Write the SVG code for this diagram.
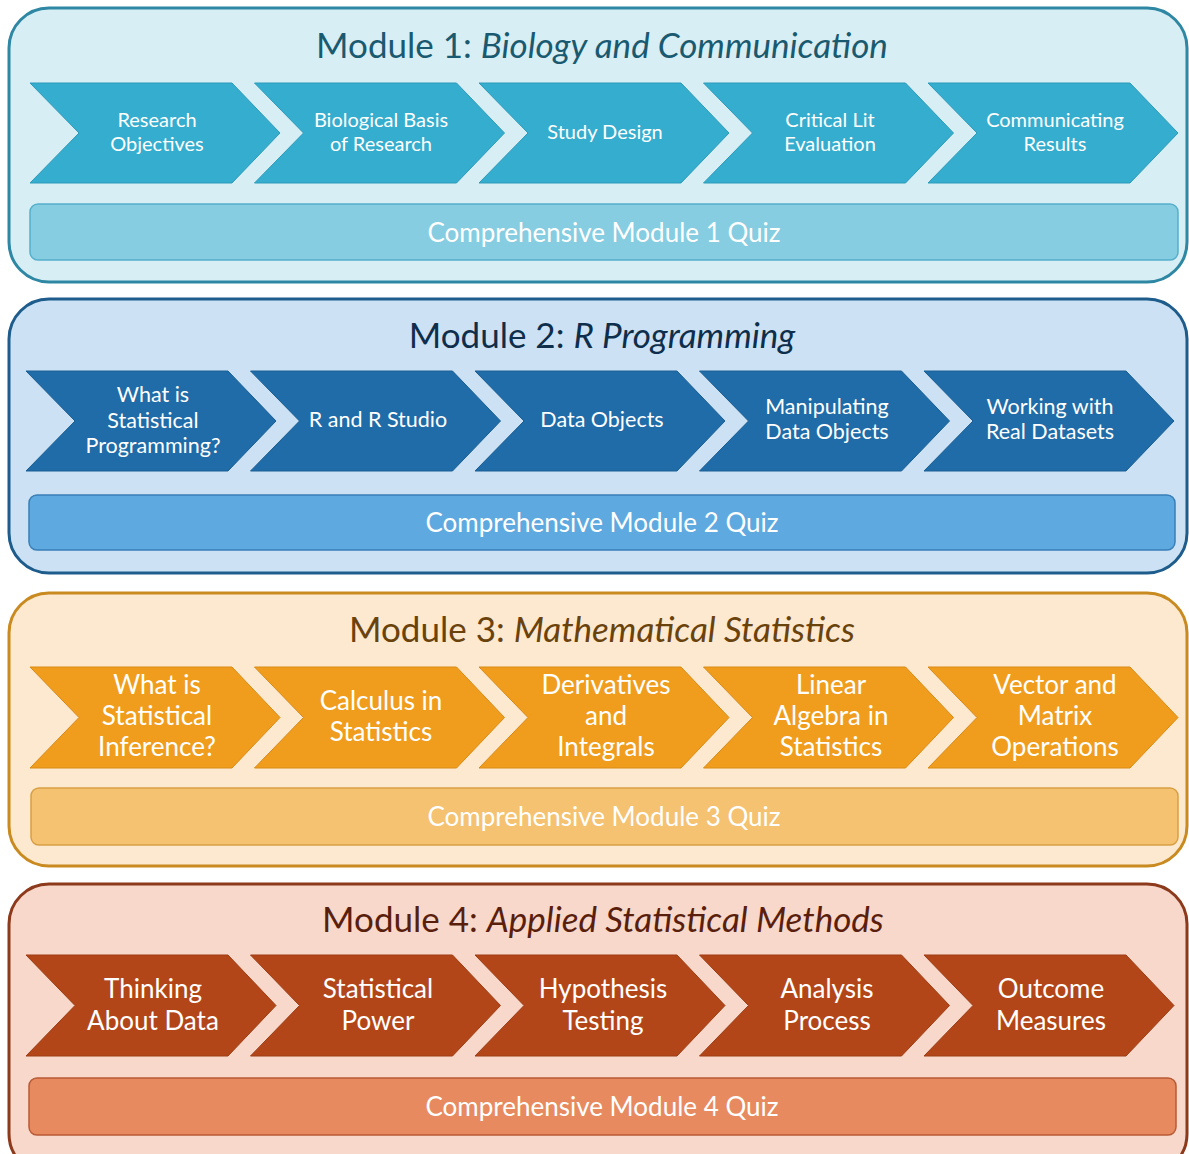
<svg xmlns="http://www.w3.org/2000/svg" width="1189" height="1154" viewBox="0 0 1189 1154">
<defs>
<style>
text{font-family:Lato,"Open Sans","Liberation Sans",sans-serif;text-anchor:middle}
.title{font-size:35px}
.lbl{fill:#fff}
.s{font-size:20px}
.s2{font-size:21.5px}
.l{font-size:26px}
.q{font-size:26px;fill:#fff}
.it{font-style:italic}
.m1c{fill:#D8EEF5;stroke:#2E87A3;stroke-width:3}
.m1v{fill:#35ADCE;stroke:#2D9BBA;stroke-width:1}
.m1q{fill:#86CDE2;stroke:#56B0CC;stroke-width:1.5}
.m1t{fill:#1A5A70}
.m2c{fill:#CCE2F4;stroke:#1E5C8C;stroke-width:3}
.m2v{fill:#1F6CA8;stroke:#1A5E93;stroke-width:1}
.m2q{fill:#5EAAE0;stroke:#3A7FB8;stroke-width:1.5}
.m2t{fill:#0E2E4C}
.m3c{fill:#FCE9D0;stroke:#C98A20;stroke-width:3}
.m3v{fill:#F09D1E;stroke:#D98A15;stroke-width:1}
.m3q{fill:#F5C272;stroke:#D9A043;stroke-width:1.5}
.m3t{fill:#6A420C}
.m4c{fill:#F7D8CB;stroke:#8C3A1B;stroke-width:3}
.m4v{fill:#B34618;stroke:#9E3D14;stroke-width:1}
.m4q{fill:#E88A60;stroke:#B85A35;stroke-width:1.5}
.m4t{fill:#5A1E0C}
</style>
</defs>
<g id="module1">
<rect class="m1c" x="9" y="8" width="1178" height="274" rx="40"/>
<text class="title m1t" x="602" y="58">Module 1: <tspan class="it">Biology and Communication</tspan></text>
</g>
<g id="m1-research-objectives"><path class="m1v" d="M30,83 H232 L280,133 L232,183 H30 L79,133 Z"/><text class="lbl s" x="157" y="127">Research</text><text class="lbl s" x="157" y="151">Objectives</text></g>
<g id="m1-biological-basis"><path class="m1v" d="M254.5,83 H456.5 L504.5,133 L456.5,183 H254.5 L303.5,133 Z"/><text class="lbl s" x="381" y="127">Biological Basis</text><text class="lbl s" x="381" y="151">of Research</text></g>
<g id="m1-study-design"><path class="m1v" d="M479,83 H681 L729,133 L681,183 H479 L528,133 Z"/><text class="lbl s" x="605" y="139">Study Design</text></g>
<g id="m1-critical-lit"><path class="m1v" d="M703.5,83 H905.5 L953.5,133 L905.5,183 H703.5 L752.5,133 Z"/><text class="lbl s" x="830" y="127">Critical Lit</text><text class="lbl s" x="830" y="151">Evaluation</text></g>
<g id="m1-communicating-results"><path class="m1v" d="M928,83 H1130 L1178,133 L1130,183 H928 L977,133 Z"/><text class="lbl s" x="1055" y="127">Communicating</text><text class="lbl s" x="1055" y="151">Results</text></g>
<g id="m1-quiz"><rect class="m1q" x="30" y="204" width="1148" height="56" rx="8"/><text class="q" x="604" y="242">Comprehensive Module 1 Quiz</text></g>

<g id="module2">
<rect class="m2c" x="9" y="299" width="1178" height="274" rx="40"/>
<text class="title m2t" x="602" y="348">Module 2: <tspan class="it">R Programming</tspan></text>
</g>
<g id="m2-what-is-stat-prog"><path class="m2v" d="M26,371 H228 L276,421 L228,471 H26 L75,421 Z"/><text class="lbl s2" x="153" y="402">What is</text><text class="lbl s2" x="153" y="428">Statistical</text><text class="lbl s2" x="153" y="453">Programming?</text></g>
<g id="m2-r-studio"><path class="m2v" d="M250.5,371 H452.5 L500.5,421 L452.5,471 H250.5 L299.5,421 Z"/><text class="lbl s2" x="378" y="427">R and R Studio</text></g>
<g id="m2-data-objects"><path class="m2v" d="M475,371 H677 L725,421 L677,471 H475 L524,421 Z"/><text class="lbl s2" x="602" y="427">Data Objects</text></g>
<g id="m2-manipulating"><path class="m2v" d="M699.5,371 H901.5 L949.5,421 L901.5,471 H699.5 L748.5,421 Z"/><text class="lbl s2" x="827" y="414">Manipulating</text><text class="lbl s2" x="827" y="439">Data Objects</text></g>
<g id="m2-real-datasets"><path class="m2v" d="M924,371 H1126 L1174,421 L1126,471 H924 L973,421 Z"/><text class="lbl s2" x="1050" y="414">Working with</text><text class="lbl s2" x="1050" y="439">Real Datasets</text></g>
<g id="m2-quiz"><rect class="m2q" x="29" y="495" width="1146" height="55" rx="8"/><text class="q" x="602" y="532">Comprehensive Module 2 Quiz</text></g>

<g id="module3">
<rect class="m3c" x="9" y="593" width="1178" height="273" rx="40"/>
<text class="title m3t" x="602" y="642">Module 3: <tspan class="it">Mathematical Statistics</tspan></text>
</g>
<g id="m3-stat-inference"><path class="m3v" d="M30,667 H232 L280,717.5 L232,768 H30 L79,717.5 Z"/><text class="lbl l" x="157" y="694">What is</text><text class="lbl l" x="157" y="725">Statistical</text><text class="lbl l" x="157" y="756">Inference?</text></g>
<g id="m3-calculus"><path class="m3v" d="M254.5,667 H456.5 L504.5,717.5 L456.5,768 H254.5 L303.5,717.5 Z"/><text class="lbl l" x="381" y="710">Calculus in</text><text class="lbl l" x="381" y="741">Statistics</text></g>
<g id="m3-derivatives"><path class="m3v" d="M479,667 H681 L729,717.5 L681,768 H479 L528,717.5 Z"/><text class="lbl l" x="606" y="694">Derivatives</text><text class="lbl l" x="606" y="725">and</text><text class="lbl l" x="606" y="756">Integrals</text></g>
<g id="m3-linear-algebra"><path class="m3v" d="M703.5,667 H905.5 L953.5,717.5 L905.5,768 H703.5 L752.5,717.5 Z"/><text class="lbl l" x="831" y="694">Linear</text><text class="lbl l" x="831" y="725">Algebra in</text><text class="lbl l" x="831" y="756">Statistics</text></g>
<g id="m3-vector-matrix"><path class="m3v" d="M928,667 H1130 L1178,717.5 L1130,768 H928 L977,717.5 Z"/><text class="lbl l" x="1055" y="694">Vector and</text><text class="lbl l" x="1055" y="725">Matrix</text><text class="lbl l" x="1055" y="756">Operations</text></g>
<g id="m3-quiz"><rect class="m3q" x="31" y="788" width="1147" height="57" rx="8"/><text class="q" x="604" y="826">Comprehensive Module 3 Quiz</text></g>

<g id="module4">
<rect class="m4c" x="9" y="884" width="1178" height="290" rx="40"/>
<text class="title m4t" x="603" y="932">Module 4: <tspan class="it">Applied Statistical Methods</tspan></text>
</g>
<g id="m4-thinking-data"><path class="m4v" d="M26,955 H228 L276,1005.5 L228,1056 H26 L75,1005.5 Z"/><text class="lbl l" x="153" y="998">Thinking</text><text class="lbl l" x="153" y="1030">About Data</text></g>
<g id="m4-stat-power"><path class="m4v" d="M250.5,955 H452.5 L500.5,1005.5 L452.5,1056 H250.5 L299.5,1005.5 Z"/><text class="lbl l" x="378" y="998">Statistical</text><text class="lbl l" x="378" y="1030">Power</text></g>
<g id="m4-hypothesis"><path class="m4v" d="M475,955 H677 L725,1005.5 L677,1056 H475 L524,1005.5 Z"/><text class="lbl l" x="603" y="998">Hypothesis</text><text class="lbl l" x="603" y="1030">Testing</text></g>
<g id="m4-analysis"><path class="m4v" d="M699.5,955 H901.5 L949.5,1005.5 L901.5,1056 H699.5 L748.5,1005.5 Z"/><text class="lbl l" x="827" y="998">Analysis</text><text class="lbl l" x="827" y="1030">Process</text></g>
<g id="m4-outcome"><path class="m4v" d="M924,955 H1126 L1174,1005.5 L1126,1056 H924 L973,1005.5 Z"/><text class="lbl l" x="1051" y="998">Outcome</text><text class="lbl l" x="1051" y="1030">Measures</text></g>
<g id="m4-quiz"><rect class="m4q" x="29" y="1078" width="1147" height="57" rx="8"/><text class="q" x="602" y="1116">Comprehensive Module 4 Quiz</text></g>
<g id="connectors"/>
</svg>
